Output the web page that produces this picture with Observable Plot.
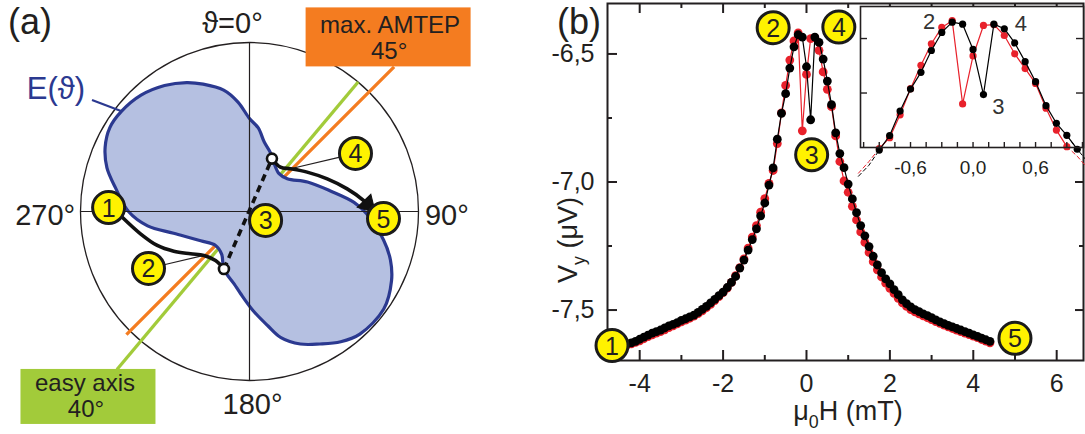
<!DOCTYPE html>
<html>
<head>
<meta charset="utf-8">
<script src="https://cdn.jsdelivr.net/npm/d3@7"></script>
<script src="https://cdn.jsdelivr.net/npm/@observablehq/plot@0.6"></script>
<style>
  body { margin: 0; background: #fff; }
  #fig { position: relative; width: 1085px; height: 434px; overflow: hidden; background: #fff; }
  #fig svg { position: absolute; overflow: visible; }
</style>
</head>
<body>
<div id="fig"></div>
<script>
// ---------------- Panel (a): polar sketch of the energy landscape ----------------
// E(ϑ) contour: angle (deg, clockwise from 0° at top) and radius relative to the outer circle
const lobeAngle  = [0, 6, 12, 19, 27, 38, 49, 63, 76, 85, 91, 102, 109, 116, 126, 138, 145, 152, 159, 166, 171,
                    178, 186, 192, 204, 213, 225, 239, 254, 262, 270, 280, 287, 294, 301, 308, 317, 326, 334, 340, 348, 354];
const lobeRadius = [0.550, 0.497, 0.420, 0.373, 0.320, 0.284, 0.296, 0.385, 0.497, 0.621, 0.692, 0.811, 0.882, 0.935, 0.982, 0.976, 0.941, 0.888, 0.840, 0.769, 0.683,
                    0.586, 0.491, 0.438, 0.373, 0.302, 0.284, 0.337, 0.467, 0.609, 0.716, 0.805, 0.882, 0.935, 0.964, 0.962, 0.941, 0.899, 0.849, 0.802, 0.734, 0.651];
const compassAngle = [0, 90, 180, 270];
const easyAxisAngle = 40;
const amtepAngle = 45;
// magnetisation states 1..5 (angle, radius)
const stateLabel  = ["1", "2", "3", "4", "5"];
const stateAngle  = [271.6, 240.6, 119.2, 61.3, 93.0];
const stateRadius = [0.834, 0.686, 0.109, 0.715, 0.794];
// switching event: jump between the two minima near the easy axis
const jumpAngle  = [204, 23];
const jumpRadius = [0.372, 0.340];
// sweep paths (diagram units, y up)
const sweepInX  = [-0.753, -0.645, -0.546, -0.448, -0.349, -0.270, -0.201, -0.152];
const sweepInY  = [-0.034, -0.132, -0.201, -0.235, -0.250, -0.260, -0.290, -0.339];
const sweepOutX = [0.134, 0.183, 0.243, 0.341, 0.460, 0.578, 0.676, 0.700];
const sweepOutY = [0.312, 0.262, 0.253, 0.233, 0.193, 0.134, 0.065, 0.040];

// ---------------- Panel (b): transverse voltage vs field ----------------
const fieldH = [-4.4, -4.3, -4.2, -4.1, -4.0, -3.9, -3.8, -3.7, -3.6, -3.5, -3.4, -3.3, -3.2, -3.1, -3.0,
  -2.9, -2.8, -2.7, -2.6, -2.5, -2.4, -2.3, -2.2, -2.1, -2.0, -1.9, -1.8, -1.7, -1.6, -1.5, -1.4, -1.3, -1.2, -1.1, -1.0,
  -0.9, -0.8, -0.7, -0.6, -0.5, -0.4, -0.3, -0.2, -0.1, 0.0, 0.1, 0.2, 0.3, 0.4, 0.5, 0.6, 0.7, 0.8, 0.9, 1.0,
  1.1, 1.2, 1.3, 1.4, 1.5, 1.6, 1.7, 1.8, 1.9, 2.0, 2.1, 2.2, 2.3, 2.4, 2.5, 2.6, 2.7, 2.8, 2.9, 3.0,
  3.1, 3.2, 3.3, 3.4, 3.5, 3.6, 3.7, 3.8, 3.9, 4.0, 4.1, 4.2, 4.3, 4.4];
const vyBlack = [-7.635, -7.632, -7.628, -7.622, -7.614, -7.606, -7.598, -7.590, -7.584, -7.578, -7.570, -7.562, -7.556, -7.549, -7.540,
  -7.534, -7.527, -7.520, -7.509, -7.497, -7.486, -7.472, -7.458, -7.444, -7.430, -7.412, -7.392, -7.369, -7.336, -7.305, -7.266, -7.225, -7.183, -7.132, -7.082,
  -7.012, -6.945, -6.833, -6.732, -6.655, -6.555, -6.472, -6.425, -6.434, -6.550, -6.757, -6.434, -6.455, -6.520, -6.606, -6.698, -6.808, -6.889, -6.944, -7.008,
  -7.066, -7.120, -7.170, -7.210, -7.252, -7.290, -7.324, -7.354, -7.378, -7.398, -7.420, -7.440, -7.460, -7.475, -7.488, -7.498, -7.506, -7.515, -7.522, -7.530,
  -7.538, -7.546, -7.553, -7.560, -7.566, -7.572, -7.578, -7.584, -7.590, -7.597, -7.603, -7.610, -7.616, -7.622];
const vyRed = [-7.640, -7.636, -7.632, -7.626, -7.620, -7.612, -7.604, -7.597, -7.590, -7.584, -7.577, -7.569, -7.562, -7.554, -7.546,
  -7.539, -7.532, -7.524, -7.514, -7.503, -7.491, -7.478, -7.463, -7.448, -7.432, -7.414, -7.392, -7.366, -7.334, -7.300, -7.258, -7.215, -7.170, -7.118, -7.065,
  -7.005, -6.955, -6.850, -6.730, -6.623, -6.524, -6.449, -6.418, -6.800, -6.580, -6.440, -6.436, -6.486, -6.570, -6.638, -6.706, -6.820, -6.920, -6.996, -7.040,
  -7.095, -7.148, -7.195, -7.236, -7.275, -7.311, -7.343, -7.371, -7.395, -7.415, -7.435, -7.454, -7.472, -7.486, -7.498, -7.507, -7.515, -7.523, -7.530, -7.537,
  -7.545, -7.552, -7.559, -7.566, -7.572, -7.578, -7.584, -7.590, -7.596, -7.602, -7.608, -7.615, -7.621, -7.628];
const hMajor = [-4, -2, 0, 2, 4, 6];
const hMinor = [-3, -1, 1, 3, 5];
const vMajor = [-6.5, -7.0, -7.5];
const vMinor = [-6.75, -7.25];
const insetLabels = [-0.6, 0, 0.6];
const insetTicks = [-1.05, -0.9, -0.75, -0.6, -0.45, -0.3, -0.15, 0, 0.15, 0.3, 0.45, 0.6, 0.75, 0.9, 1.05];
const insetVTicks = [-6.75, -6.5];

// ---------------- styles ----------------
const FONT = '"Liberation Sans", Arial, "DejaVu Sans", sans-serif';
const INK = "#231f20";
const RED = "#e8212b";
const YELLOW = "#fff200";
const NAVY = "#2b3990";
const LOBE = "#b5c0e1";
const GREEN = "#a2cb3a";
const ORANGE = "#f47c20";

const fig = document.getElementById("fig");
function place(svg, left, top) {
  svg.style.left = left + "px";
  svg.style.top = top + "px";
  fig.appendChild(svg);
  return svg;
}
// text with optional subscript pieces, appended to a rendered plot
function richText(svg, x, y, parts, {size = 25, anchor = "start", rotate = 0, fill = INK} = {}) {
  const t = d3.select(svg).append("text")
    .attr("transform", `translate(${x},${y}) rotate(${rotate})`)
    .attr("text-anchor", anchor)
    .attr("font-family", FONT)
    .attr("font-size", size)
    .attr("fill", fill);
  let shifted = false;
  for (const p of parts) {
    const s = t.append("tspan").text(p.t);
    if (p.sub) { s.attr("font-size", size * 0.66).attr("dy", size * 0.28); shifted = true; }
    else if (shifted) { s.attr("dy", -size * 0.28); shifted = false; }
  }
}
function badge(d, {dx = 0, dy = 0, r = 16, fs = 25} = {}) {
  return [
    Plot.dot([d], {x: "x", y: "y", r, dx, dy, fill: YELLOW, stroke: "#1b1b1b", strokeWidth: 3}),
    Plot.text([d], {x: "x", y: "y", text: "label", dx, dy: dy + 1, fontSize: fs, fill: INK, fontFamily: FONT})
  ];
}

// ================= Panel (a) =================
const WA = 480, HA = 434, pxA = 169, cxA = 249, cyA = 211;
const u = (p) => p / pxA; // pixels -> diagram units
const polar = (deg, r) => {
  const t = deg * Math.PI / 180;
  return {x: r * Math.sin(t), y: r * Math.cos(t)};
};
const lobe = lobeAngle.map((a, i) => polar(a, lobeRadius[i]));
const states = stateLabel.map((s, i) => ({label: s, ...polar(stateAngle[i], stateRadius[i])}));
const jumps = jumpAngle.map((a, i) => polar(a, jumpRadius[i]));
const sweepIn = sweepInX.map((x, i) => ({x, y: sweepInY[i]}));
const sweepOut = sweepOutX.map((x, i) => ({x, y: sweepOutY[i]}));

const easyTop = polar(easyAxisAngle, 1), easyBottom = polar(easyAxisAngle + 180, 1.22);
const amtepTop = polar(amtepAngle, 1.21), amtepBottom = polar(amtepAngle + 180, 1.03);
const axisLines = [
  {x1: easyTop.x, y1: easyTop.y, x2: easyBottom.x, y2: easyBottom.y, c: GREEN},
  {x1: amtepTop.x, y1: amtepTop.y, x2: amtepBottom.x, y2: amtepBottom.y, c: ORANGE}
];
// callout boxes hang off the ends of the two axis lines
const amtepBox = {x1: amtepTop.x - u(88), x2: amtepTop.x + u(77), y1: amtepTop.y, y2: amtepTop.y + u(59)};
const easyBox = {x1: easyBottom.x - u(96), x2: easyBottom.x + u(39), y1: easyBottom.y - u(55), y2: easyBottom.y};
const boxTexts = [
  {x: amtepTop.x - u(4), y: amtepTop.y + u(42), t: "max. AMTEP"},
  {x: amtepTop.x - u(5), y: amtepTop.y + u(16), t: `${amtepAngle}°`},
  {x: easyBottom.x - u(32), y: easyBottom.y - u(14), t: "easy axis"},
  {x: easyBottom.x - u(31), y: easyBottom.y - u(40), t: `${easyAxisAngle}°`}
];
const compassOffset = [[-17, -7], [3, -4], [3, 1], [-10, -4]];
const compass = compassAngle.map((a, i) => {
  const p = polar(a, 1.15);
  return {x: p.x + u(compassOffset[i][0]), y: p.y + u(compassOffset[i][1]), t: a === 0 ? "ϑ=0°" : `${a}°`};
});
// leader lines from the numbered badges to the paths
const lead = (from, to) => {
  const dx = to.x - from.x, dy = to.y - from.y, L = Math.hypot(dx, dy);
  return {x1: from.x + dx / L * u(16), y1: from.y + dy / L * u(16), x2: to.x, y2: to.y};
};
const lobeTip = polar(308, 0.965);
const eLabelAnchor = {x: lobeTip.x - u(29), y: lobeTip.y + u(11)};
const leaders = [lead(states[1], sweepIn[5]), lead(states[3], sweepOut[2])];
// heading of the last sweep segment, clockwise from screen-up
const endDir = Math.atan2(sweepOut[7].x - sweepOut[6].x, sweepOut[7].y - sweepOut[6].y) * 180 / Math.PI;

const panelA = Plot.plot({
  width: WA, height: HA, margin: 0,
  x: {domain: [-cxA / pxA, (WA - cxA) / pxA], axis: null},
  y: {domain: [-(HA - cyA) / pxA, cyA / pxA], axis: null},
  style: {background: "transparent", fontFamily: FONT, overflow: "visible"},
  marks: [
    Plot.dot([{x: 0, y: 0}], {x: "x", y: "y", r: pxA, fill: "none", stroke: INK, strokeWidth: 1.3}),
    Plot.link(axisLines, {x1: "x1", y1: "y1", x2: "x2", y2: "y2", stroke: "c", strokeWidth: 3.3, strokeLinecap: "butt"}),
    Plot.line(lobe, {x: "x", y: "y", curve: "catmull-rom-closed", fill: LOBE, stroke: NAVY, strokeWidth: 3.2}),
    Plot.ruleX([0], {y1: -1, y2: 1, stroke: INK, strokeWidth: 1.2}),
    Plot.ruleY([0], {x1: -1, x2: 1, stroke: INK, strokeWidth: 1.2}),
    Plot.link(leaders, {x1: "x1", y1: "y1", x2: "x2", y2: "y2", stroke: INK, strokeWidth: 1.2}),
    Plot.link([{x1: eLabelAnchor.x, y1: eLabelAnchor.y, x2: lobeTip.x, y2: lobeTip.y}],
      {x1: "x1", y1: "y1", x2: "x2", y2: "y2", stroke: NAVY, strokeWidth: 2.2}),
    Plot.line(sweepIn, {x: "x", y: "y", curve: "catmull-rom", stroke: "#111", strokeWidth: 3.6}),
    Plot.line(sweepOut, {x: "x", y: "y", curve: "catmull-rom", stroke: "#111", strokeWidth: 3.6}),
    Plot.line(jumps, {x: "x", y: "y", stroke: "#111", strokeWidth: 3.6, strokeDasharray: "7,5", strokeLinecap: "butt"}),
    Plot.dot([sweepOut[7]], {x: "x", y: "y", symbol: "triangle", r: 7, rotate: endDir, fill: "#111", stroke: "#111", strokeWidth: 1}),
    Plot.dot(jumps, {x: "x", y: "y", r: 5, fill: "#fff", stroke: "#111", strokeWidth: 2.6}),
    ...states.flatMap((d) => badge(d)),
    Plot.text(compass, {x: "x", y: "y", text: "t", fontSize: 29, fill: INK, fontFamily: FONT}),
    Plot.text([eLabelAnchor], {x: "x", y: "y", text: () => "E(ϑ)", textAnchor: "end", dx: -7, dy: -11, fontSize: 31, fill: NAVY, fontFamily: FONT}),
    Plot.rect([amtepBox], {x1: "x1", x2: "x2", y1: "y1", y2: "y2", fill: ORANGE}),
    Plot.rect([easyBox], {x1: "x1", x2: "x2", y1: "y1", y2: "y2", fill: GREEN}),
    Plot.text(boxTexts, {x: "x", y: "y", text: "t", fontSize: 24, fill: INK, fontFamily: FONT})
  ]
});
place(panelA, 0, 0);
richText(panelA, 8, 34, [{t: "(a)"}], {size: 36});

// ================= Panel (b) =================
const traces = fieldH.map((h, i) => ({h, black: vyBlack[i], red: vyRed[i]}));
const WB = 605, HB = 434, leftB = 480;
const mB = {top: 3, right: 2, bottom: 74, left: 127};
const plotWB = WB - mB.left - mB.right, plotHB = HB - mB.top - mB.bottom;
const inward = (values, len, side, pw, ph, sw = 2) => {
  const o = {stroke: INK, strokeWidth: sw};
  if (side === "bottom") return Plot.ruleX(values, {...o, insetTop: ph - len});
  if (side === "top") return Plot.ruleX(values, {...o, insetBottom: ph - len});
  if (side === "left") return Plot.ruleY(values, {...o, insetRight: pw - len});
  return Plot.ruleY(values, {...o, insetLeft: pw - len});
};
const comma = (d) => d.toFixed(1).replace(".", ",");
const first = traces[0], last = traces[traces.length - 1];
const at = (h) => traces.find((d) => Math.abs(d.h - h) < 1e-9);

const panelB = Plot.plot({
  width: WB, height: HB,
  marginTop: mB.top, marginRight: mB.right, marginBottom: mB.bottom, marginLeft: mB.left,
  x: {domain: [-4.772, 6.643]},
  y: {domain: [-7.697, -6.303]},
  style: {background: "transparent", fontFamily: FONT, overflow: "visible"},
  marks: [
    Plot.line(traces, {x: "h", y: "red", stroke: RED, strokeWidth: 1.2}),
    Plot.dot(traces, {x: "h", y: "red", r: 4.4, fill: RED}),
    Plot.line(traces, {x: "h", y: "black", stroke: "#000", strokeWidth: 1.2}),
    Plot.dot(traces, {x: "h", y: "black", r: 4.4, fill: "#000"}),
    Plot.frame({stroke: INK, strokeWidth: 2}),
    inward(hMajor, 10, "bottom", plotWB, plotHB), inward(hMinor, 5, "bottom", plotWB, plotHB),
    inward(hMajor, 10, "top", plotWB, plotHB), inward(hMinor, 5, "top", plotWB, plotHB),
    inward(vMajor, 10, "left", plotWB, plotHB), inward(vMinor, 5, "left", plotWB, plotHB),
    inward(vMajor, 8, "right", plotWB, plotHB), inward(vMinor, 4, "right", plotWB, plotHB),
    Plot.axisX(hMajor, {tickSize: 0, tickPadding: 14, tickFormat: (d) => String(d), fontSize: 25, fontFamily: FONT, label: null, fill: INK}),
    Plot.axisY(vMajor, {tickSize: 0, tickPadding: 13, tickFormat: comma, fontSize: 25, fontFamily: FONT, label: null, fill: INK}),
    ...badge({label: "1", x: first.h, y: first.black}, {dx: -11, dy: 1}),
    ...badge({label: "5", x: last.h, y: last.black}, {dx: 25, dy: -3}),
    ...badge({label: "2", x: -0.2, y: at(-0.2).black}, {dx: -25, dy: -7}),
    ...badge({label: "4", x: 0.2, y: at(0.2).black}, {dx: 24, dy: -10}),
    ...badge({label: "3", x: 0.1, y: at(0.1).black}, {dx: 1, dy: 35})
  ]
});
place(panelB, leftB, 0);
richText(panelB, 77, 34, [{t: "(b)"}], {size: 36});
richText(panelB, 368, 420, [{t: "μ"}, {t: "0", sub: true}, {t: "H (mT)"}], {size: 27, anchor: "middle"});
richText(panelB, 97, 240, [{t: "V"}, {t: "y", sub: true}, {t: " (μV)"}], {size: 27, anchor: "middle", rotate: -90});

// ================= Inset of panel (b): zoom on the switching region =================
const WI = 245, HI = 185, leftI = 840;
const mI = {top: 6, right: 2, bottom: 38, left: 20};
const plotWI = WI - mI.left - mI.right, plotHI = HI - mI.top - mI.bottom;
const insetDots = (key) => traces.filter((d) => Math.abs(d.h) <= 1.05 && d[key] >= -7.02);
const insetTails = traces.filter((d) => Math.abs(d.h) >= 0.9 - 1e-9 && Math.abs(d.h) <= 1.1 + 1e-9);
const side = (d) => (d.h < 0 ? "left" : "right");

const inset = Plot.plot({
  width: WI, height: HI,
  marginTop: mI.top, marginRight: mI.right, marginBottom: mI.bottom, marginLeft: mI.left,
  x: {domain: [-1.080, 1.060]},
  y: {domain: [-7.0, -6.353], axis: null},
  style: {background: "transparent", fontFamily: FONT, overflow: "visible"},
  marks: [
    Plot.frame({fill: "#fff", stroke: "none"}),
    Plot.line(insetTails, {x: "h", y: "red", z: side, stroke: RED, strokeWidth: 1, strokeDasharray: "4,3"}),
    Plot.line(insetTails, {x: "h", y: "black", z: side, stroke: "#000", strokeWidth: 1, strokeDasharray: "4,3"}),
    Plot.line(traces, {x: "h", y: "red", stroke: RED, strokeWidth: 1.2, clip: "frame"}),
    Plot.dot(insetDots("red"), {x: "h", y: "red", r: 3.6, fill: RED}),
    Plot.line(traces, {x: "h", y: "black", stroke: "#000", strokeWidth: 1.2, clip: "frame"}),
    Plot.dot(insetDots("black"), {x: "h", y: "black", r: 3.6, fill: "#000"}),
    Plot.frame({stroke: INK, strokeWidth: 1.6}),
    inward(insetTicks, 5, "bottom", plotWI, plotHI, 1.4),
    inward(insetVTicks, 7, "left", plotWI, plotHI, 1.4),
    inward(insetVTicks, 7, "right", plotWI, plotHI, 1.4),
    Plot.axisX(insetLabels, {tickSize: 0, tickPadding: 13, tickFormat: comma, fontSize: 19, fontFamily: FONT, label: null, fill: INK}),
    Plot.text([at(-0.2)], {x: "h", y: "black", text: () => "2", dx: -23, dy: 0, fontSize: 22, fill: "#333", fontFamily: FONT}),
    Plot.text([at(0.2)], {x: "h", y: "black", text: () => "4", dx: 27, dy: 0, fontSize: 22, fill: "#333", fontFamily: FONT}),
    Plot.text([at(0.1)], {x: "h", y: "black", text: () => "3", dx: 15, dy: 12, fontSize: 22, fill: "#333", fontFamily: FONT})
  ]
});
place(inset, leftI, 0);
</script>
</body>
</html>
